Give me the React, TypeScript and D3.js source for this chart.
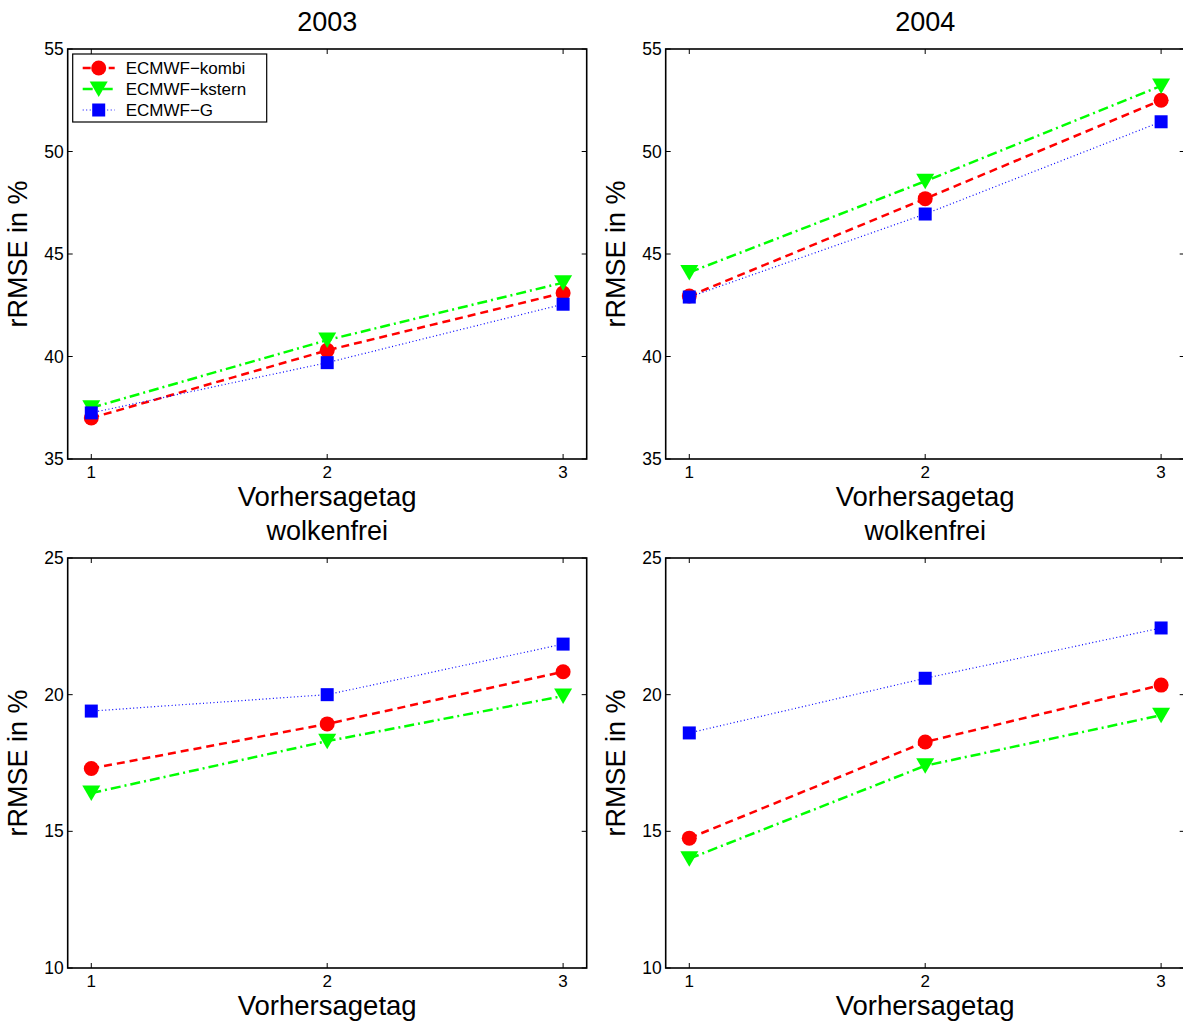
import React from 'react';
import * as d3 from 'd3';

// forecast day (x axis)
const days = [1, 2, 3];
const xTickLabels = ['1', '2', '3'];

const seriesNames = ['ECMWF−kombi', 'ECMWF−kstern', 'ECMWF−G'];

// rRMSE in %, all conditions
const kombi2003 = [37.0, 40.3, 43.1];
const kstern2003 = [37.5, 40.8, 43.6];
const g2003 = [37.25, 39.7, 42.55];

const kombi2004 = [42.95, 47.7, 52.5];
const kstern2004 = [44.1, 48.55, 53.2];
const g2004 = [42.9, 46.95, 51.45];

// rRMSE in %, cloud free
const kombiClear2003 = [17.3, 18.93, 20.84];
const ksternClear2003 = [16.4, 18.3, 19.95];
const gClear2003 = [19.4, 20.0, 21.85];

const kombiClear2004 = [14.75, 18.27, 20.35];
const ksternClear2004 = [14.0, 17.4, 19.25];
const gClear2004 = [18.6, 20.6, 22.44];

const yTicksAll = [35, 40, 45, 50, 55];
const yTicksClear = [10, 15, 20, 25];

const FONT = '"Liberation Sans", Arial, Helvetica, sans-serif';

const styles = [
  { color: '#ff0000', dash: '8,5', width: 2.5, marker: 'circle' },
  { color: '#00ff00', dash: '10,4,2,4', width: 2.5, marker: 'triangle' },
  { color: '#0000ff', dash: '1,2.5', width: 1.2, marker: 'square' },
];

const W = 519;
const H = 410;

function Marker({ kind, cx, cy, color }) {
  if (kind === 'circle') return <circle cx={cx} cy={cy} r={7.5} fill={color} />;
  if (kind === 'square') return <rect x={cx - 6.5} y={cy - 6.5} width={13} height={13} fill={color} />;
  const s = 9;
  return (
    <path
      d={`M${cx - s},${cy - 7.5}L${cx + s},${cy - 7.5}L${cx},${cy + 8}Z`}
      fill={color}
    />
  );
}

function Panel({ left, top, title, yDomain, yTicks, series, legend }) {
  const x = d3.scaleLinear().domain([0.9, 3.1]).range([0, W]);
  const y = d3.scaleLinear().domain(yDomain).range([H, 0]);
  const line = d3.line<number>()
    .x((d, i) => x(days[i]))
    .y(d => y(d));
  const tick = 5;

  return (
    <g transform={`translate(${left},${top})`} fontFamily={FONT}>
      <text x={W / 2} y={-18} textAnchor="middle" fontSize={27}>{title}</text>
      {/* series */}
      {series.map((s, si) => (
        <g key={si}>
          <path
            d={line(s) || ''}
            fill="none"
            stroke={styles[si].color}
            strokeWidth={styles[si].width}
            strokeDasharray={styles[si].dash}
          />
          {s.map((v, i) => (
            <Marker key={i} kind={styles[si].marker} cx={x(days[i])} cy={y(v)} color={styles[si].color} />
          ))}
        </g>
      ))}
      {/* box */}
      <rect x={0} y={0} width={W} height={H} fill="none" stroke="#000" strokeWidth={1.6} />
      {/* x ticks */}
      {days.map((d, i) => (
        <g key={d}>
          <line x1={x(d)} x2={x(d)} y1={H} y2={H - tick} stroke="#000" />
          <line x1={x(d)} x2={x(d)} y1={0} y2={tick} stroke="#000" />
          <text x={x(d)} y={H + 19} textAnchor="middle" fontSize={17}>{xTickLabels[i]}</text>
        </g>
      ))}
      {/* y ticks */}
      {yTicks.map(t => (
        <g key={t}>
          <line x1={0} x2={tick} y1={y(t)} y2={y(t)} stroke="#000" />
          <line x1={W} x2={W - tick} y1={y(t)} y2={y(t)} stroke="#000" />
          <text x={-4} y={y(t) + 6} textAnchor="end" fontSize={17.5}>{t}</text>
        </g>
      ))}
      <text x={W / 2} y={H + 47} textAnchor="middle" fontSize={27.5}>Vorhersagetag</text>
      <text
        transform={`translate(-41,${H / 2}) rotate(-90)`}
        textAnchor="middle"
        fontSize={27}
      >
        rRMSE in %
      </text>
      {legend && (
        <g transform="translate(5,5)">
          <rect x={0} y={0} width={194} height={68} fill="#fff" stroke="#000" strokeWidth={1.2} />
          {seriesNames.map((n, i) => {
            const ly = 14 + i * 21;
            return (
              <g key={n}>
                <line x1={10} x2={42} y1={ly} y2={ly} stroke={styles[i].color}
                  strokeWidth={styles[i].width} strokeDasharray={styles[i].dash} />
                <Marker kind={styles[i].marker} cx={26} cy={ly} color={styles[i].color} />
                <text x={53} y={ly + 6} fontSize={17}>{n}</text>
              </g>
            );
          })}
        </g>
      )}
    </g>
  );
}

export default function App() {
  return (
    <svg
      width={1183}
      height={1021}
      style={{ position: 'absolute', left: 0, top: 0, background: '#fff' }}
    >
      <rect width={1183} height={1021} fill="#fff" />
      <Panel left={67.7} top={49} title="2003" yDomain={[35, 55]} yTicks={yTicksAll}
        series={[kombi2003, kstern2003, g2003]} legend />
      <Panel left={665.7} top={49} title="2004" yDomain={[35, 55]} yTicks={yTicksAll}
        series={[kombi2004, kstern2004, g2004]} legend={false} />
      <Panel left={67.7} top={558} title="wolkenfrei" yDomain={[10, 25]} yTicks={yTicksClear}
        series={[kombiClear2003, ksternClear2003, gClear2003]} legend={false} />
      <Panel left={665.7} top={558} title="wolkenfrei" yDomain={[10, 25]} yTicks={yTicksClear}
        series={[kombiClear2004, ksternClear2004, gClear2004]} legend={false} />
    </svg>
  );
}
